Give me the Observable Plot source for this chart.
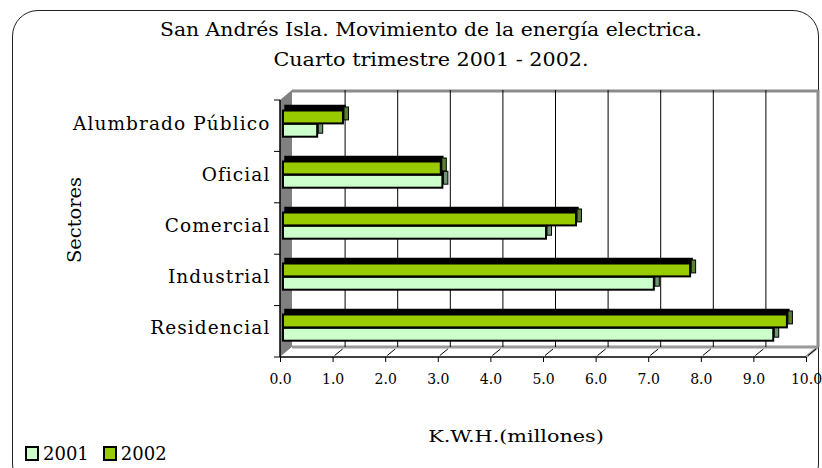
<!DOCTYPE html>
<html><head><meta charset="utf-8">
<script src="https://cdn.jsdelivr.net/npm/d3@7"></script>
<script src="https://cdn.jsdelivr.net/npm/@observablehq/plot@0.6"></script>
<style>
body{margin:0;background:#fff;}
#wrap{position:relative;width:822px;height:468px;overflow:hidden;font-family:"DejaVu Serif",serif;color:#000;background:#fff;}
#frame{position:absolute;left:12px;top:10px;width:807px;height:480px;border:1.5px solid #222;border-radius:26px;box-sizing:border-box;}
.t{position:absolute;white-space:nowrap;line-height:1;}
#chart{position:absolute;left:0;top:0;}
.sw{display:inline-block;width:10px;height:11px;border:2px solid #000;vertical-align:-1px;margin-right:4px;}
</style></head><body>
<div id="wrap">
<div id="frame"></div>
<div id="chart"></div>
<div class="t" style="left:0;width:862px;top:21px;text-align:center;font-size:18px;transform:scaleX(1.13)">San Andrés Isla. Movimiento de la energía electrica.</div>
<div class="t" style="left:0;width:862px;top:51px;text-align:center;font-size:18px;transform:scaleX(1.15)">Cuarto trimestre 2001 - 2002.</div>
<div class="t" style="left:75px;top:220px;font-size:18px;transform:translate(-50%,-50%) rotate(-90deg) scaleX(1.08)">Sectores</div>
<div class="t" style="left:0;width:1032px;top:428px;text-align:center;font-size:17px;transform:scaleX(1.22)">K.W.H.(millones)</div>
<div class="t" id="legend" style="left:25px;top:445px;font-size:18px"></div>
</div>
<script>
const sectores = ["Alumbrado Público", "Oficial", "Comercial", "Industrial", "Residencial"];
const v2001 = [0.65, 3.03, 5.0, 7.05, 9.32];
const v2002 = [1.14, 3.0, 5.57, 7.74, 9.58];
const series = ["2001", "2002"];
const xTicks = [0, 1, 2, 3, 4, 5, 6, 7, 8, 9, 10];

const colors = {"2001": "#ccffcc", "2002": "#99cc00"};
const sideColors = {"2001": "#6f9473", "2002": "#5b7f35"};
const d2001 = sectores.map((s, i) => ({sector: s, value: v2001[i]}));
const d2002 = sectores.map((s, i) => ({sector: s, value: v2002[i]}));

// vertical positions of each series inside a category band
const insets = {"2001": {insetTop: 22.8, insetBottom: 15.3}, "2002": {insetTop: 9.5, insetBottom: 28.6}};

function barMarks(data, key) {
  const ins = insets[key];
  return [
    Plot.barX(data, {x: "value", y: "sector", ...ins, dx: 5, dy: -5, fill: "#000", stroke: "#000", strokeWidth: 1.5}),
    Plot.barX(data, {x: "value", y: "sector", ...ins, dx: 3, fill: colors[key], stroke: "#000", strokeWidth: 2}),
    Plot.barX(data, {x1: "value", x2: "value", y: "sector", insetTop: ins.insetTop - 2, insetBottom: ins.insetBottom + 2, insetLeft: 0, insetRight: -4.5, dx: 4, dy: -1.5, fill: sideColors[key], stroke: "#000", strokeWidth: 1})
  ];
}

const plot = Plot.plot({
  width: 822,
  height: 468,
  marginLeft: 280,
  marginRight: 16,
  marginTop: 100,
  marginBottom: 111,
  style: {fontFamily: "DejaVu Serif, serif", fontSize: "14px", color: "#000", background: "transparent", overflow: "visible"},
  x: {domain: [0, 10], ticks: 10, tickSize: 5, tickPadding: 12, tickFormat: d => d.toFixed(1), label: null},
  y: {domain: sectores, padding: 0, axis: null},
  marks: [
    Plot.ruleX(xTicks.slice(1, -1), {x: d => d, dx: 12, dy: -10, stroke: "#000", strokeWidth: 1}),
    ...barMarks(d2001, "2001"),
    ...barMarks(d2002, "2002"),
    Plot.text(sectores, {x: () => 0, y: d => d, text: d => d, textAnchor: "end", dx: -10, dy: -3, fontSize: 18.5, fill: "#000"})
  ]
});
document.getElementById("chart").appendChild(plot);

const svg = d3.select(plot);
svg.selectAll("text").filter(function() { return sectores.includes(this.textContent); }).style("letter-spacing", "1.1px");

// 3D walls, floor and axis lines from the scales
const sx = plot.scale("x"), sy = plot.scale("y");
const X = d3.scaleLinear().domain(sx.domain).range(sx.range);
const [y0, y1] = sy.range;
const step = (y1 - y0) / sectores.length;
const DX = 12, DY = -10;
const x0 = X(0), xE = X(10);
const back = svg.insert("g", ":first-child");
back.append("polygon").attr("points", `${x0},${y0} ${x0 + DX},${y0 + DY} ${x0 + DX},${y1 + DY} ${x0},${y1}`).attr("fill", "#808080");
back.append("polygon").attr("points", `${x0},${y1} ${x0 + DX},${y1 + DY} ${xE + DX},${y1 + DY} ${xE},${y1}`).attr("fill", "#fff");
back.append("line").attr("x1", x0 + DX).attr("x2", xE + DX).attr("y1", y0 + DY + 1).attr("y2", y0 + DY + 1).attr("stroke", "#8c8c8c").attr("stroke-width", 3);
back.append("line").attr("x1", xE + DX).attr("x2", xE + DX).attr("y1", y0 + DY).attr("y2", y1 + DY).attr("stroke", "#8c8c8c").attr("stroke-width", 3);
back.append("line").attr("x1", x0 + DX).attr("x2", xE + DX).attr("y1", y1 + DY).attr("y2", y1 + DY).attr("stroke", "#9a9a9a").attr("stroke-width", 3);
back.append("line").attr("x1", xE).attr("x2", xE + DX).attr("y1", y1).attr("y2", y1 + DY).attr("stroke", "#9a9a9a").attr("stroke-width", 2.5);
const front = svg.append("g").attr("stroke", "#000");
xTicks.slice(1).forEach(t => {
  front.append("line").attr("x1", X(t) + 2).attr("y1", y1 - 1.5).attr("x2", X(t) + 10).attr("y2", y1 - 8).attr("stroke-width", 1);
});
front.append("line").attr("x1", x0).attr("x2", xE).attr("y1", y1).attr("y2", y1).attr("stroke-width", 1.5);
front.append("line").attr("x1", x0).attr("x2", x0).attr("y1", y0).attr("y2", y1).attr("stroke-width", 1.5);
for (let i = 0; i <= sectores.length; i++) {
  const yy = y0 + i * step;
  front.append("line").attr("x1", x0 - 6).attr("x2", x0).attr("y1", yy).attr("y2", yy).attr("stroke-width", 1);
}

// legend
document.getElementById("legend").innerHTML = series.map((s, i) =>
  `<span style="margin-right:${i === 0 ? 14 : 0}px"><span class="sw" style="background:${colors[s]}"></span>${s}</span>`).join("");
</script>
</body></html>
